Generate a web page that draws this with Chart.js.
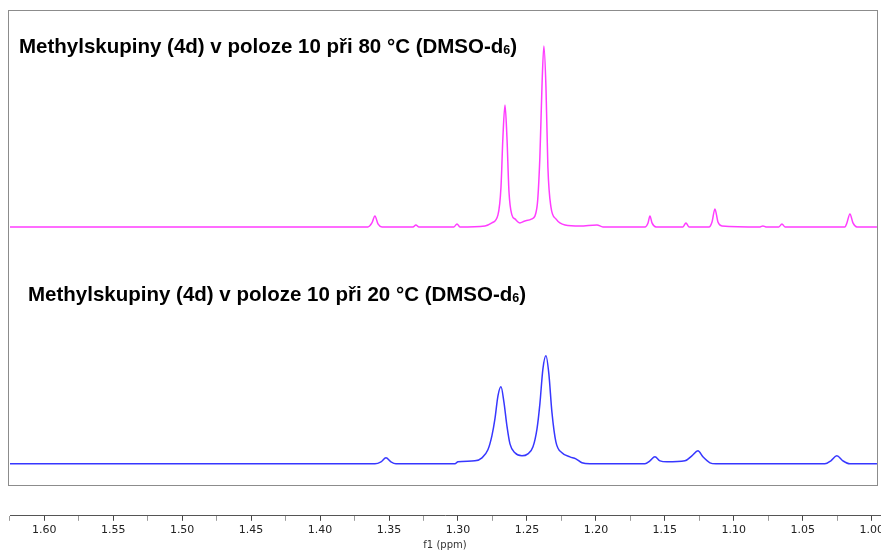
<!DOCTYPE html>
<html>
<head>
<meta charset="utf-8">
<script src="https://cdn.jsdelivr.net/npm/chart.js@4"></script>
<style>
  html, body { margin: 0; padding: 0; background: #fff; overflow: hidden; }
  #wrap { width: 881px; height: 550px; }
</style>
</head>
<body>
<div id="wrap"><canvas id="plot"></canvas></div>
<script>
// spectrum at 80 °C (top), [ppm, intensity]
const ppm80 = [1.6248, 1.3653, 1.3624, 1.3602, 1.3580, 1.3551, 1.3326, 1.3305, 1.3283, 1.3029, 1.3007, 1.2986,
  1.2804, 1.2754, 1.2710, 1.2688, 1.2674, 1.2659, 1.2645, 1.2630, 1.2609, 1.2587, 1.2551, 1.2514, 1.2464,
  1.2427, 1.2406, 1.2391, 1.2377, 1.2362, 1.2348, 1.2326, 1.2290, 1.2224, 1.2116, 1.1992, 1.1949,
  1.1644, 1.1622, 1.1608, 1.1593, 1.1564, 1.1369, 1.1347, 1.1325, 1.1180, 1.1158, 1.1137, 1.1115, 1.1086,
  1.0810, 1.0789, 1.0767, 1.0673, 1.0651, 1.0629, 1.0194, 1.0180, 1.0158, 1.0136, 1.0107, 0.9962];
const int80 = [0, 0, 4, 11, 3, 0, 0, 2, 0, 0, 3, 0,
  1, 4, 12, 40, 90, 122, 90, 35, 12, 8, 4, 6, 8,
  20, 70, 140, 181, 140, 60, 20, 8, 2, 1, 2, 0,
  0, 4, 11, 4, 0, 0, 4, 0, 0, 5, 18, 5, 1,
  0, 1, 0, 0, 3, 0, 0, 4, 13, 4, 0, 0];

// spectrum at 20 °C (bottom)
const ppm20 = [1.6248, 1.3602, 1.3558, 1.3522, 1.3486, 1.3450, 1.3022, 1.3000, 1.2877, 1.2826, 1.2783, 1.2754,
  1.2732, 1.2710, 1.2688, 1.2667, 1.2645, 1.2623, 1.2587, 1.2536, 1.2493, 1.2456, 1.2427, 1.2406, 1.2384,
  1.2362, 1.2341, 1.2319, 1.2290, 1.2246, 1.2188, 1.2145, 1.2101, 1.2043, 1.1644, 1.1608, 1.1572, 1.1535,
  1.1485, 1.1354, 1.1304, 1.1260, 1.1224, 1.1173, 1.1130, 1.0340, 1.0296, 1.0253, 1.0209, 1.0158, 0.9962];
const int20 = [0, 0, 2, 6, 2, 0, 0, 2, 3, 6, 14, 28,
  45, 68, 77, 62, 38, 20, 11, 8, 10, 17, 35, 60, 95,
  108, 90, 52, 22, 11, 7, 5, 1, 0, 0, 3, 7, 3,
  2, 3, 8, 13, 7, 1, 0, 0, 3, 8, 3, 0, 0];

const majorTicks = [1.60, 1.55, 1.50, 1.45, 1.40, 1.35, 1.30, 1.25, 1.20, 1.15, 1.10, 1.05, 1.00];
const minorTicks = [1.625, 1.575, 1.525, 1.475, 1.425, 1.375, 1.325, 1.275, 1.225, 1.175, 1.125, 1.075, 1.025];

const titles = ['Methylskupiny (4d) v poloze 10 při 80 °C (DMSO-d', 'Methylskupiny (4d) v poloze 10 při 20 °C (DMSO-d'];

function pts(xs, ys) { return xs.map((x, i) => ({x: x, y: ys[i]})); }

const deco = {
  id: 'deco',
  beforeDraw(chart) {
    const c = chart.ctx;
    c.save();
    c.strokeStyle = '#8c8c8c';
    c.lineWidth = 1;
    c.strokeRect(8.5, 10.5, 869, 475);
    c.restore();
  },
  afterDraw(chart) {
    const c = chart.ctx;
    c.save();
    c.fillStyle = '#000';
    c.textBaseline = 'middle';
    const pos = [[19, 47], [28, 295]];
    titles.forEach((t, i) => {
      let x = pos[i][0], y = pos[i][1];
      c.font = 'bold 20.5px "Liberation Sans", Arial, sans-serif';
      c.fillText(t, x, y);
      x += c.measureText(t).width;
      c.font = 'bold 12.5px "Liberation Sans", Arial, sans-serif';
      c.fillText('6', x, y + 4);
      x += c.measureText('6').width;
      c.font = 'bold 20.5px "Liberation Sans", Arial, sans-serif';
      c.fillText(')', x, y);
    });
    c.restore();
  }
};

const config = {
  type: 'line',
  data: {
    datasets: [
      {label: '80 °C', data: pts(ppm80, int80), yAxisID: 'y', borderColor: 'rgb(255, 60, 255)', borderWidth: 1.5,
       pointRadius: 0, cubicInterpolationMode: 'monotone', fill: false},
      {label: '20 °C', data: pts(ppm20, int20), yAxisID: 'y2', borderColor: 'rgb(55, 55, 255)', borderWidth: 1.5,
       pointRadius: 0, cubicInterpolationMode: 'monotone', fill: false}
    ]
  },
  options: {
    responsive: true,
    maintainAspectRatio: false,
    animation: false,
    layout: {autoPadding: false, padding: {left: 10, right: 1, top: 10, bottom: 0}},
    plugins: {legend: {display: false}, tooltip: {enabled: false}},
    scales: {
      x: {
        type: 'linear',
        reverse: true,
        min: 0.994,
        max: 1.6248,
        afterBuildTicks: axis => {
          axis.ticks = majorTicks.concat(minorTicks).map(v => ({value: v}));
        },
        border: {display: true, color: '#555', width: 1},
        grid: {
          drawOnChartArea: false,
          drawTicks: true,
          tickLength: 5,
          tickColor: ctx => (majorTicks.some(v => Math.abs(v - ctx.tick.value) < 1e-6) ? '#444' : '#999')
        },
        ticks: {
          color: '#222',
          padding: 3,
          maxRotation: 0,
          autoSkip: false,
          font: {family: 'DejaVu Sans', size: 11},
          callback: v => (majorTicks.some(m => Math.abs(m - v) < 1e-6) ? v.toFixed(2) : '')
        },
        title: {display: true, text: 'f1 (ppm)', color: '#333', padding: 0,
                font: {family: 'DejaVu Sans', size: 10, lineHeight: 1}}
      },
      y: {display: false, min: -289, max: 217},
      y2: {display: false, min: -52, max: 454}
    }
  },
  plugins: [deco]
};

let ctx = document.getElementById('plot').getContext('2d');
let chart = new Chart(ctx, config);
</script>
</body>
</html>
